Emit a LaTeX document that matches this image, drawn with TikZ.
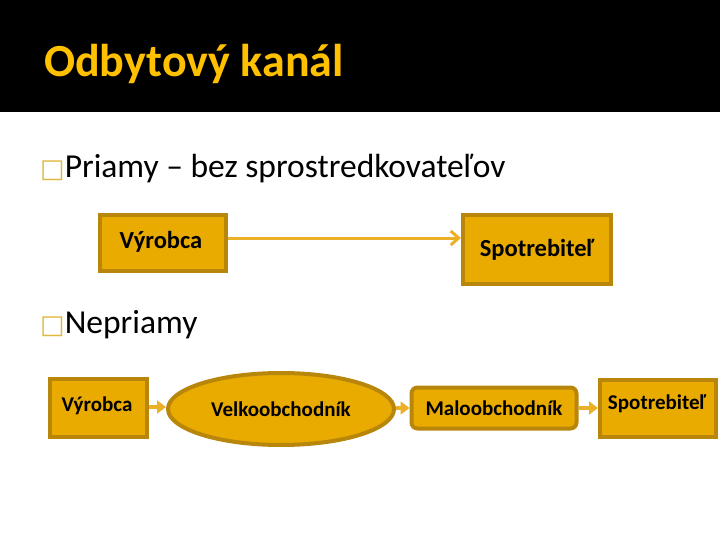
\documentclass[tikz,border=0pt]{standalone}
\usepackage{fontspec}
\setmainfont{Carlito}
\newfontfamily\symfont{DejaVu Sans}
\usetikzlibrary{shapes.geometric,arrows.meta}
\definecolor{titlegold}{HTML}{FFC000}
\definecolor{boxfill}{HTML}{EAAB00}
\definecolor{boxline}{HTML}{B8860B}
\definecolor{arrowgold}{HTML}{EBB026}
\definecolor{bulletgold}{HTML}{E0B840}
\tikzset{
  box/.style={draw=boxline, fill=boxfill, line width=4pt, inner sep=0pt, font=\fontsize{24.5}{26}\selectfont\bfseries},
  boxsmall/.style={box, font=\fontsize{21}{23}\selectfont\bfseries},
  conn/.style={draw=arrowgold, line width=3pt, -{Straight Barb[length=8pt,width=14pt,line width=3pt]}},
  connshort/.style={draw=arrowgold, line width=4pt, -{Triangle[length=9pt,width=13pt]}},
  bullettext/.style={anchor=west, inner sep=0pt, font=\fontsize{33.5}{36}\selectfont},
}
\begin{document}
\begin{tikzpicture}[x=1pt,y=-1pt]
\useasboundingbox (0,0) rectangle (720,540);
\fill[black] (0,0) rectangle (720,112);
\node[anchor=base west, inner sep=0pt, text=titlegold, font=\fontsize{46}{50}\selectfont\bfseries] (title) at (44,77) {Odbytový kanál};
\node[bullettext, anchor=base west] (b1) at (40,178) {{\color{bulletgold}\symfont\fontsize{26}{28}\selectfont □}Priamy – bez sprostredkovateľov};
\node[bullettext, anchor=base west] (b2) at (40,333) {{\color{bulletgold}\symfont\fontsize{26}{28}\selectfont □}Nepriamy};

% row 1
\node[box, minimum width=126pt, minimum height=56pt, anchor=north west] (v1) at (98,213) {};
\node[font=\fontsize{24.5}{26}\selectfont\bfseries, inner sep=0pt] (v1t) at (161,242) {Výrobca};
\node[box, minimum width=148pt, minimum height=69pt, anchor=north west] (s1) at (461,213) {Spotrebiteľ};
\draw[conn] (v1.east |- 0,238) -- (s1.west |- 0,238);

% row 2
\node[boxsmall, minimum width=97pt, minimum height=58pt, anchor=north west] (v2) at (48,377) {};
\node[font=\fontsize{21}{23}\selectfont\bfseries, inner sep=0pt] (v2t) at (97,406) {Výrobca};
\node[boxsmall, ellipse, minimum width=226pt, minimum height=72pt] (vo) at (281,409) {Velkoobchodník};
\node[boxsmall, rounded corners=6pt, minimum width=165pt, minimum height=41pt] (mo) at (494,408) {Maloobchodník};
\node[boxsmall, minimum width=116pt, minimum height=57pt, anchor=north west] (s2) at (598,378) {};
\node[font=\fontsize{21}{23}\selectfont\bfseries, inner sep=0pt] (s2t) at (657,404) {Spotrebiteľ};
\draw[connshort] (v2.east |- 0,407) -- (vo.west |- 0,407);
\draw[connshort] (vo.east |- 0,408) -- (mo.west |- 0,408);
\draw[connshort] (mo.east |- 0,408) -- (s2.west |- 0,408);
\end{tikzpicture}
\end{document}
